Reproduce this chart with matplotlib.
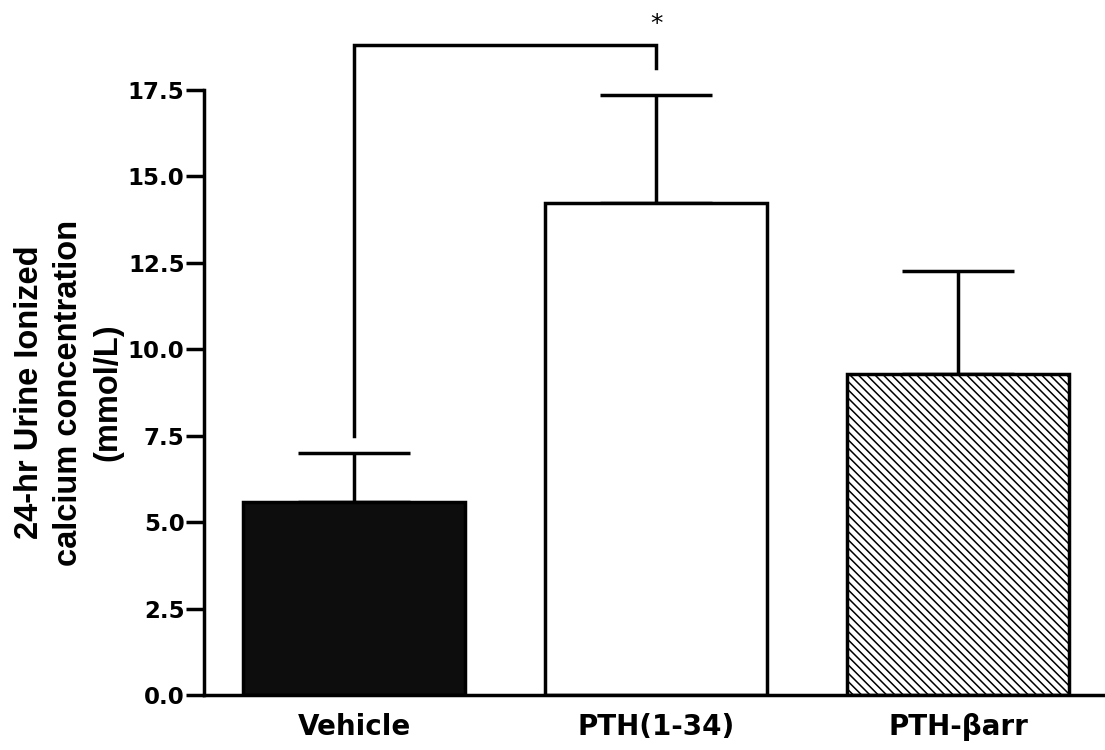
import numpy as np
import matplotlib.pyplot as plt

# data
groups = ['Vehicle', 'PTH(1-34)', 'PTH-\u03b2arr']
means = [5.58, 14.23, 9.29]
sem = [1.42, 3.13, 2.98]
fills = ['#0d0d0d', 'white', 'white']
hatches = ['', '', '\\\\\\\\']
y_ticks = [0.0, 2.5, 5.0, 7.5, 10.0, 12.5, 15.0, 17.5]

plt.rcParams['font.family'] = ['DejaVu Sans']
plt.rcParams['hatch.linewidth'] = 1.1

fig = plt.figure(figsize=(11.05, 7.5), dpi=100)
ax = fig.add_axes([0.1846, 0.0733, 0.8154, 0.8067])

x = np.arange(len(groups))
bars = ax.bar(x, means, width=0.735, color=fills, edgecolor='black',
              linewidth=2.5, zorder=2)
for b, h in zip(bars, hatches):
    b.set_hatch(h)

ax.errorbar(x, means, yerr=[np.zeros(len(sem)), sem], fmt='none',
            ecolor='black', elinewidth=2.5, capsize=40, capthick=2.5, zorder=1)

ax.set_xlim(-0.497, 2.487)
ax.set_ylim(0, 17.5)
ax.set_yticks(y_ticks)
ax.set_yticklabels(['%.1f' % t for t in y_ticks], fontsize=16.5, fontweight='bold')
ax.set_xticks(x)
ax.set_xticklabels(groups, fontsize=20, fontweight='bold')
ax.tick_params(axis='y', length=13, width=2.5, pad=1)
ax.tick_params(axis='x', length=0, pad=13)
for s in ['top', 'right']:
    ax.spines[s].set_visible(False)
for s in ['left', 'bottom']:
    ax.spines[s].set_linewidth(2.5)

ax.set_ylabel('24-hr Urine Ionized\ncalcium concentration\n(mmol/L)',
              fontsize=23.5, fontweight='bold',
              family=['DejaVu Sans Condensed', 'Liberation Sans'],
              linespacing=1.35, labelpad=3)

# significance bracket Vehicle vs PTH(1-34)
ax.plot([0, 0, 1, 1], [7.5, 18.8, 18.8, 18.15], color='black', lw=2.5,
        clip_on=False, solid_joinstyle='miter')
ax.text(1, 19.05, '*', ha='center', va='bottom', fontsize=18)

fig.savefig('out.png', dpi=100)
